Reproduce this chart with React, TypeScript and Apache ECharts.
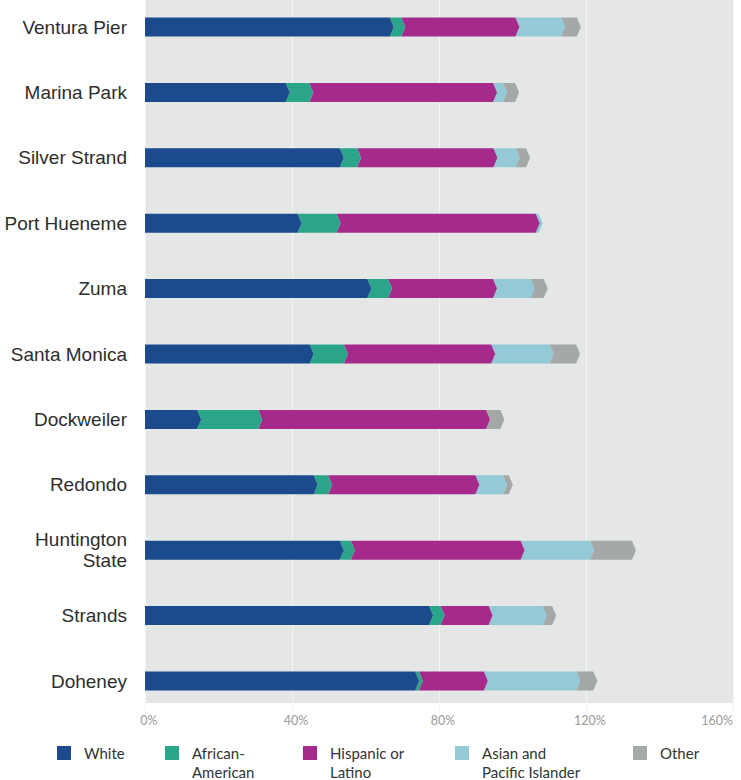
import React, { useEffect, useRef } from "react";
import * as echarts from "echarts";

const categories = [
  "Ventura Pier",
  "Marina Park",
  "Silver Strand",
  "Port Hueneme",
  "Zuma",
  "Santa Monica",
  "Dockweiler",
  "Redondo",
  "Huntington\nState",
  "Strands",
  "Doheney",
];
const white = [66.6, 38.3, 53.0, 41.5, 60.5, 44.8, 14.2, 45.9, 53.0, 77.3, 73.5];
const africanAmerican = [3.1, 6.4, 4.7, 10.6, 5.6, 9.3, 16.6, 3.9, 3.0, 3.1, 1.0];
const hispanicLatino = [31.1, 50.0, 37.1, 54.2, 28.6, 40.1, 62.0, 40.1, 46.2, 13.1, 17.7];
const asianPacific = [12.4, 2.7, 6.0, 0.8, 10.2, 15.9, 0, 7.5, 18.9, 14.7, 25.1];
const other = [4.3, 3.3, 2.9, 0, 3.6, 7.2, 3.9, 1.6, 11.4, 2.6, 4.7];

const seriesNames = ["White", "African-American", "Hispanic or Latino", "Asian and Pacific Islander", "Other"];
const legendLabels = ["White", "African-\nAmerican", "Hispanic or\nLatino", "Asian and\nPacific Islander", "Other"];
const seriesValues = [white, africanAmerican, hispanicLatino, asianPacific, other];
const seriesColors = ["#1b4a8d", "#2ba58a", "#a52a8c", "#94c9d8", "#a4a8a8"];
const xTicks = [0, 40, 80, 120, 160];

const legendLeft = [57, 165, 303, 455, 633];
const BAR_H = 19;
const CHEVRON = 4;

export default function App() {
  const ref = useRef<HTMLDivElement>(null);
  useEffect(() => {
    if (!ref.current) return;
    const chart = echarts.init(ref.current, undefined, { renderer: "svg" });

    const starts: number[][] = seriesValues.map(() => []);
    categories.forEach((_, ci) => {
      let acc = 0;
      seriesValues.forEach((vals, si) => {
        starts[si][ci] = acc;
        acc += vals[ci];
      });
    });

    const renderItem = (params: any, api: any) => {
      const ci = api.value(0);
      const s = api.value(1);
      const e = api.value(2);
      if (e - s <= 0) return null;
      const p0 = api.coord([s, ci]);
      const p1 = api.coord([e, ci]);
      const top = p0[1] - BAR_H / 2;
      const bot = p0[1] + BAR_H / 2;
      const mid = p0[1];
      const pts: number[][] = [
        [p0[0], top],
        [p1[0], top],
        [p1[0] + CHEVRON, mid],
        [p1[0], bot],
        [p0[0], bot],
      ];
      if (s > 0) pts.push([p0[0] + CHEVRON, mid]);
      return {
        type: "polygon",
        shape: { points: pts },
        style: { fill: api.visual("color") },
      };
    };

    const series = seriesNames.map((name, si) => ({
      type: "custom",
      name,
      color: seriesColors[si],
      itemStyle: { color: seriesColors[si] },
      renderItem,
      encode: { x: [1, 2], y: 0 },
      data: categories.map((_, ci) => [ci, starts[si][ci], starts[si][ci] + seriesValues[si][ci]]),
      z: 10 - si,
    }));

    const iconCenter = 753;
    const LH = 18.5;
    const legends = seriesNames.map((name, si) => {
      const twoLine = legendLabels[si].includes("\n");
      return {
        show: true,
        left: legendLeft[si],
        top: twoLine ? iconCenter - LH * 1.5 : iconCenter - LH / 2,
        padding: 0,
        itemWidth: 14,
        itemHeight: 14,
        icon: "rect",
        selectedMode: false,
        formatter: () => (twoLine ? "\n" + legendLabels[si] : legendLabels[si]),
        textStyle: {
          fontFamily: "Lato",
          fontSize: 15,
          color: "#333333",
          lineHeight: LH,
          padding: [0, 0, 0, 8],
        },
        data: [{ name, itemStyle: { color: seriesColors[si] } }],
      };
    });

    chart.setOption({
      animation: false,
      backgroundColor: "#ffffff",
      grid: {
        left: 145,
        right: 8,
        top: -5.7,
        bottom: 66.3,
        containLabel: false,
        outerBoundsMode: "none",
      },
      graphic: [
        {
          type: "rect",
          z: -10,
          silent: true,
          shape: { x: 145, y: 0, width: 588, height: 703 },
          style: { fill: "#e5e7e6" },
        },
      ],
      xAxis: {
        type: "value",
        min: xTicks[0],
        max: xTicks[xTicks.length - 1],
        interval: 40,
        axisLine: { show: false },
        axisTick: { show: false },
        splitLine: { show: true, lineStyle: { color: "#f3f4f4", width: 1 } },
        axisLabel: {
          formatter: "{value}%",
          color: "#9a9a9a",
          fontFamily: "Lato",
          fontSize: 12.5,
          margin: 0,
          padding: [0, 0, 0, 8],
          alignMaxLabel: "right",
        },
      },
      yAxis: {
        type: "category",
        data: categories,
        inverse: true,
        axisLine: { show: false },
        axisTick: { show: false },
        splitLine: { show: false },
        axisLabel: {
          color: "#2e2e2e",
          fontFamily: "Liberation Sans",
          fontSize: 19,
          lineHeight: 21,
          margin: 18,
        },
      },
      legend: legends,
      series,
    });
    return () => chart.dispose();
  }, []);
  return (
    <div
      ref={ref}
      style={{ position: "fixed", left: 0, top: 0, width: 741, height: 780 }}
    />
  );
}
